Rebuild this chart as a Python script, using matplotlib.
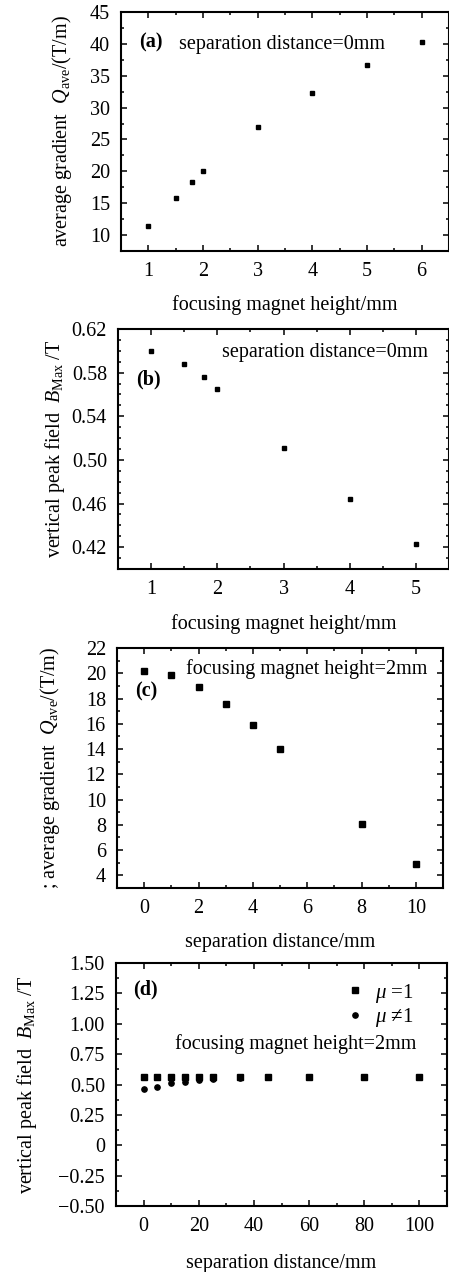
import numpy as np
import matplotlib
matplotlib.use('Agg')
import matplotlib.pyplot as plt
from matplotlib.ticker import MultipleLocator, FuncFormatter

plt.rcParams['font.family'] = ['Liberation Serif', 'DejaVu Serif']
plt.rcParams['mathtext.fontset'] = 'custom'
plt.rcParams['mathtext.rm'] = 'Liberation Serif'
plt.rcParams['mathtext.it'] = 'Liberation Serif:italic'
plt.rcParams['font.size'] = 14.5

# (a) gradient vs magnet height
height_a = [1, 1.5, 1.8, 2, 3, 4, 5, 6]
grad_a = [11.4, 15.8, 18.3, 20.1, 27.0, 32.3, 36.7, 40.3]

# (b) peak field vs magnet height
height_b = [1, 1.5, 1.8, 2, 3, 4, 5]
field_b = [0.600, 0.588, 0.576, 0.565, 0.511, 0.464, 0.423]
ticks_b = [0.42, 0.46, 0.50, 0.54, 0.58, 0.62]

# (c) gradient vs separation distance
sep_c = [0, 1, 2, 3, 4, 5, 8, 10]
grad_c = [20.15, 19.87, 18.95, 17.6, 15.9, 13.97, 8.1, 4.92]

# (d) peak field vs separation distance
sep_d_sq = [0, 5, 10, 15, 20, 25, 35, 45, 60, 80, 100]
field_d_sq = [0.565, 0.565, 0.565, 0.565, 0.565, 0.565, 0.565, 0.565, 0.565, 0.565, 0.565]
sep_d_ci = [0, 5, 10, 15, 20, 25, 35, 45]
field_d_ci = [0.46, 0.482, 0.513, 0.523, 0.535, 0.545, 0.557, 0.558]

W, H = 449, 1272
fig = plt.figure(figsize=(W / 100, H / 100), dpi=100)


def make_axes(left, right, top, bottom):
    return fig.add_axes([left / W, 1 - bottom / H, (right - left) / W, (bottom - top) / H])


def style(ax):
    for s in ax.spines.values():
        s.set_linewidth(1.5)
    ax.tick_params(which='both', direction='in', top=True, right=True, width=1.1)
    ax.tick_params(which='major', length=4, pad=8, labelsize=14.5)
    ax.tick_params(which='minor', length=2.5)


# (a)
ax = make_axes(121, 449, 12, 251)
ax.plot(height_a, grad_a, 's', color='black', ms=3.4)
ax.set_xlim(0.5, 6.5)
ax.set_ylim(7.5, 45)
ax.xaxis.set_major_locator(MultipleLocator(1))
ax.xaxis.set_minor_locator(MultipleLocator(0.5))
ax.yaxis.set_major_locator(MultipleLocator(5))
ax.yaxis.set_minor_locator(MultipleLocator(2.5))
style(ax)
ax.set_xlabel('focusing magnet height/mm', labelpad=10)
ax.set_ylabel(r'average gradient  $Q_{\rm ave}$/(T/m)', labelpad=11.5)
ax.text(0.055, 0.874, '(a)', transform=ax.transAxes, fontweight='bold', va='center')
ax.text(0.177, 0.862, 'separation distance=0mm', transform=ax.transAxes, va='center')

# (b)
ax = make_axes(118, 449, 329, 569)
ax.plot(height_b, field_b, 's', color='black', ms=3.4)
ax.set_xlim(0.5, 5.5)
ax.set_ylim(0.40, 0.62)
ax.xaxis.set_major_locator(MultipleLocator(1))
ax.xaxis.set_minor_locator(MultipleLocator(0.5))
ax.set_yticks(ticks_b)
ax.yaxis.set_minor_locator(MultipleLocator(0.01))
ax.yaxis.set_major_formatter(FuncFormatter(lambda v, p: f'{v:.2f}'))
style(ax)
ax.set_xlabel('focusing magnet height/mm', labelpad=11)
ax.set_ylabel(r'vertical peak field  $B_{\rm Max}$ /T', labelpad=3)
ax.text(0.054, 0.788, '(b)', transform=ax.transAxes, fontweight='bold', va='center')
ax.text(0.315, 0.901, 'separation distance=0mm', transform=ax.transAxes, va='center')

# (c)
ax = make_axes(117, 443, 648, 888)
ax.plot(sep_c, grad_c, 's', color='black', ms=4.2)
ax.set_xlim(-1, 11)
ax.set_ylim(3, 22)
ax.xaxis.set_major_locator(MultipleLocator(2))
ax.xaxis.set_minor_locator(MultipleLocator(1))
ax.yaxis.set_major_locator(MultipleLocator(2))
ax.yaxis.set_minor_locator(MultipleLocator(1))
style(ax)
ax.set_xlabel('separation distance/mm', labelpad=11)
ax.set_ylabel(r'; average gradient  $Q_{\rm ave}$/(T/m)', labelpad=17)
ax.text(0.056, 0.819, '(c)', transform=ax.transAxes, fontweight='bold', va='center')
ax.text(0.211, 0.912, 'focusing magnet height=2mm', transform=ax.transAxes, va='center')

# (d)
ax = make_axes(116, 447, 963, 1206)
ax.plot(sep_d_sq, field_d_sq, 's', color='black', ms=3.8, label=r'$\mu$ =1')
ax.plot(sep_d_ci, field_d_ci, 'o', color='black', ms=3.8, label=r'$\mu$ ≠1')
ax.set_xlim(-10, 110)
ax.set_ylim(-0.5, 1.5)
ax.xaxis.set_major_locator(MultipleLocator(20))
ax.xaxis.set_minor_locator(MultipleLocator(10))
ax.yaxis.set_major_locator(MultipleLocator(0.25))
ax.yaxis.set_minor_locator(MultipleLocator(0.125))
ax.yaxis.set_major_formatter(FuncFormatter(
    lambda v, p: '0' if abs(v) < 1e-9 else f'{v:.2f}'.replace('-', '\u2212')))
style(ax)
ax.set_xlabel('separation distance/mm', labelpad=13)
ax.set_ylabel(r'vertical peak field  $B_{\rm Max}$ /T', labelpad=14)
ax.text(0.051, 0.893, '(d)', transform=ax.transAxes, fontweight='bold', va='center')
ax.text(0.179, 0.666, 'focusing magnet height=2mm', transform=ax.transAxes, va='center')
ax.legend(loc='upper right', bbox_to_anchor=(0.957, 1.0), frameon=False,
          handlelength=0.8, handletextpad=0.6, labelspacing=0.05, fontsize=15)

fig.savefig('out.png', dpi=100)
